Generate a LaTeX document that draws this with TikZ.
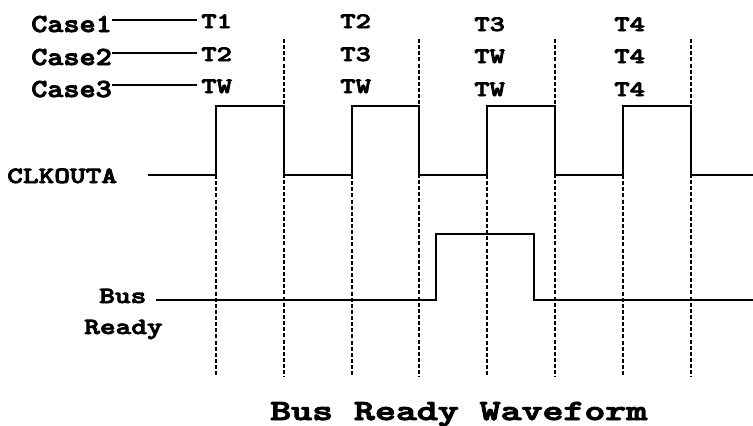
\documentclass[tikz,border=0pt]{standalone}
\usepackage{fontspec}
\newfontfamily\wtt[FakeBold=3]{lmmonolt10-bold.otf}
\newcommand\wstr[2]{\scalebox{#1}[1]{#2}}
\begin{document}
\begin{tikzpicture}[x=0.75pt,y=-0.75pt,
  lbl/.style={inner sep=0pt,anchor=base west,font=\wtt\fontsize{17.5pt}{20pt}\selectfont},
  caselbl/.style={inner sep=0pt,anchor=base west,font=\wtt\fontsize{19.5pt}{24pt}\selectfont},
  tlbl/.style={inner sep=0pt,anchor=base west,font=\wtt\fontsize{16.5pt}{19pt}\selectfont},
  ttl/.style={inner sep=0pt,anchor=base west,font=\wtt\fontsize{22pt}{26pt}\selectfont},
  wave/.style={line width=1.5pt,line join=miter},
  grid/.style={line width=1.2pt,dash pattern=on 3pt off 1.6pt}]
\useasboundingbox (0,0) rectangle (753,425);
% case labels
\node[caselbl] (c1) at (31,32) {\wstr{1.18}{Case1}};
\node[caselbl] (c2) at (31,65) {\wstr{1.18}{Case2}};
\node[caselbl] (c3) at (31,97) {\wstr{1.18}{Case3}};
% time-state labels
\node[tlbl] (t11) at (201,28) {\wstr{1.33}{T1}};
\node[tlbl] (t12) at (201,61) {\wstr{1.33}{T2}};
\node[tlbl] (t13) at (201,93) {\wstr{1.33}{TW}};
\node[tlbl] (t21) at (340,28) {\wstr{1.33}{T2}};
\node[tlbl] (t22) at (340,61) {\wstr{1.33}{T3}};
\node[tlbl] (t23) at (340,93) {\wstr{1.33}{TW}};
\node[tlbl] (t31) at (474,31) {\wstr{1.33}{T3}};
\node[tlbl] (t32) at (474,63) {\wstr{1.33}{TW}};
\node[tlbl] (t33) at (474,96) {\wstr{1.33}{TW}};
\node[tlbl] (t41) at (614,31) {\wstr{1.33}{T4}};
\node[tlbl] (t42) at (614,63) {\wstr{1.33}{T4}};
\node[tlbl] (t43) at (614,96) {\wstr{1.33}{T4}};
\draw[line width=1.2pt] ([yshift=9pt]c1.base east) -- ([xshift=-3pt,yshift=9pt]c1.base east -| t11.base west);
\draw[line width=1.2pt] ([yshift=9pt]c2.base east) -- ([xshift=-3pt,yshift=9pt]c2.base east -| t12.base west);
\draw[line width=1.2pt] ([yshift=9pt]c3.base east) -- ([xshift=-3pt,yshift=9pt]c3.base east -| t13.base west);
% signal labels
\node[lbl] (clk) at (7,183) {\wstr{1.28}{CLKOUTA}};
\node[lbl] (bus) at (99,303) {\wstr{1.28}{Bus}};
\node[lbl] (rdy) at (84,334) {\wstr{1.28}{Ready}};
\node[ttl] (title) at (270,420) {\wstr{1.36}{Bus Ready Waveform}};
% clock waveform
\draw[wave] (148,175) -- (216,175) -- (216,106) -- (284,106) -- (284,175)
  -- (352,175) -- (352,106) -- (419,106) -- (419,175)
  -- (487,175) -- (487,106) -- (555,106) -- (555,175)
  -- (623,175) -- (623,106) -- (691,106) -- (691,175) -- (753,175);
% bus ready waveform
\draw[wave] (156,300) -- (436,300) -- (436,234) -- (534,234) -- (534,300) -- (753,300);
% dashed grid
\foreach \x in {216,352,487,623} \draw[grid] (\x,175) -- (\x,377);
\foreach \x in {284,419,555,691} \draw[grid] (\x,39) -- (\x,377);
\end{tikzpicture}
\end{document}
